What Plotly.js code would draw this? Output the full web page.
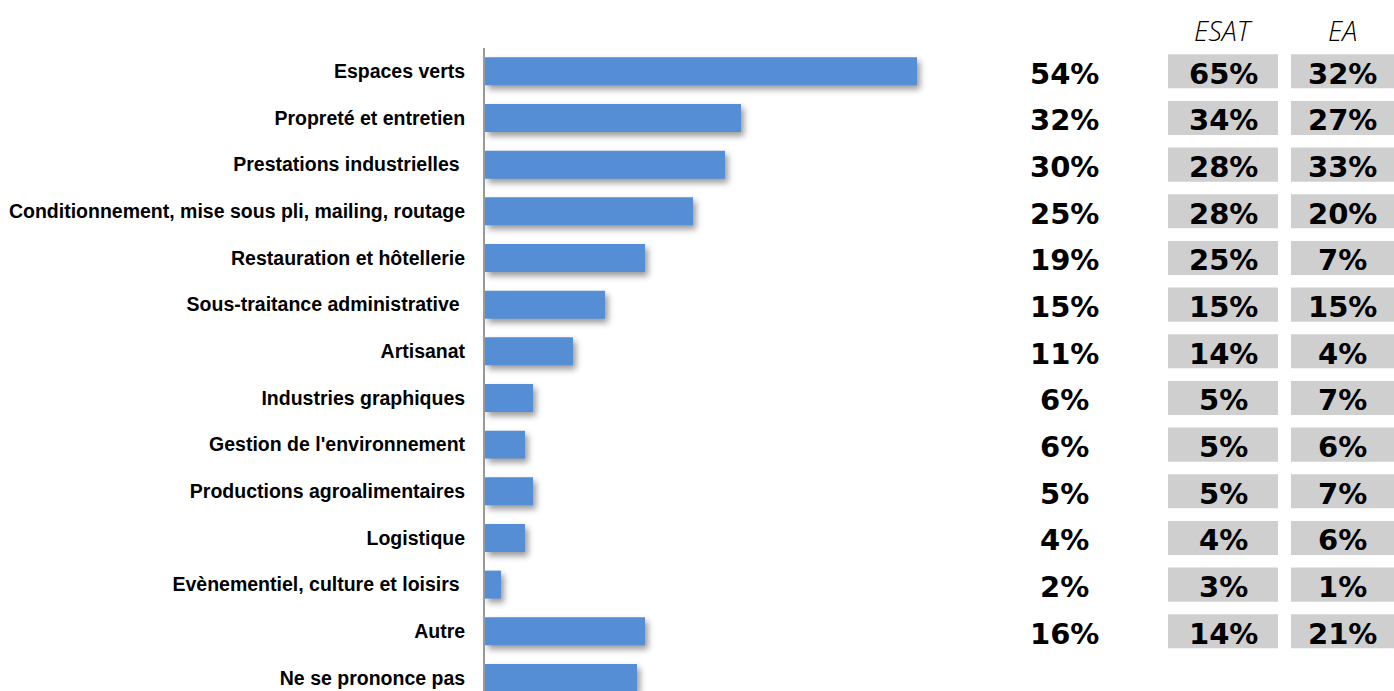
<!DOCTYPE html>
<html>
<head>
<meta charset="utf-8">
<script src="https://cdn.plot.ly/plotly-3.0.1.min.js"></script>
<style>
  html, body { margin: 0; padding: 0; background: #fff; }
  #chart { width: 1394px; height: 691px; }
  .bars .point path { filter: drop-shadow(3px 4px 3px rgba(0,0,0,0.4)); }
</style>
</head>
<body>
<div id="chart"></div>
<script>
// ---- data ----
const categories = [
  "Espaces verts",
  "Propreté et entretien",
  "Prestations industrielles\u00a0",
  "Conditionnement, mise sous pli, mailing, routage",
  "Restauration et hôtellerie",
  "Sous-traitance administrative\u00a0",
  "Artisanat",
  "Industries graphiques",
  "Gestion de l'environnement",
  "Productions agroalimentaires",
  "Logistique",
  "Evènementiel, culture et loisirs\u00a0",
  "Autre",
  "Ne se prononce pas"
];
// bar lengths (%)
const barValues = [54, 32, 30, 26, 20, 15, 11, 6, 5, 6, 5, 2, 20, 19];
// text columns
const totalLabels = ["54%", "32%", "30%", "25%", "19%", "15%", "11%", "6%", "6%", "5%", "4%", "2%", "16%"];
const esatLabels  = ["65%", "34%", "28%", "28%", "25%", "15%", "14%", "5%", "5%", "5%", "4%", "3%", "14%"];
const eaLabels    = ["32%", "27%", "33%", "20%", "7%", "15%", "4%", "7%", "6%", "7%", "6%", "1%", "21%"];
const columnHeaders = ["ESAT", "EA"];

// ---- layout constants ----
const W = 1394, H = 691;
const L = 485, T = 48;
const plotW = W - L;
const pxToPaper = px => (px - L) / plotW;
const pxPerPct = 8;

const trace = {
  type: "bar",
  orientation: "h",
  x: barValues,
  y: categories,
  marker: { color: "#558ed5", line: { width: 0 } },
  hoverinfo: "none"
};

const annotations = [];
const shapes = [];
const numFont = { family: "DejaVu Sans", size: 29, color: "#000", weight: "bold" };
const boxH = 0.365;
const textShift = 0.05;

totalLabels.forEach((t, i) => {
  annotations.push({ xref: "paper", yref: "y", x: pxToPaper(1064), y: i + textShift, text: t,
    showarrow: false, xanchor: "center", yanchor: "middle", font: numFont });
});
esatLabels.forEach((t, i) => {
  shapes.push({ type: "rect", xref: "paper", yref: "y", x0: pxToPaper(1168), x1: pxToPaper(1278),
    y0: i - boxH, y1: i + boxH, fillcolor: "#cfcfcf", line: { width: 0 }, layer: "below" });
  annotations.push({ xref: "paper", yref: "y", x: pxToPaper(1223), y: i + textShift, text: t,
    showarrow: false, xanchor: "center", yanchor: "middle", font: numFont });
});
eaLabels.forEach((t, i) => {
  shapes.push({ type: "rect", xref: "paper", yref: "y", x0: pxToPaper(1291), x1: pxToPaper(1394),
    y0: i - boxH, y1: i + boxH, fillcolor: "#cfcfcf", line: { width: 0 }, layer: "below" });
  annotations.push({ xref: "paper", yref: "y", x: pxToPaper(1342), y: i + textShift, text: t,
    showarrow: false, xanchor: "center", yanchor: "middle", font: numFont });
});
const headerX = [1223, 1342];
columnHeaders.forEach((h, k) => {
  annotations.push({ xref: "paper", yref: "paper", x: pxToPaper(headerX[k]), y: 1 + (T - 31) / (H - T),
    text: h, showarrow: false, xanchor: "center", yanchor: "middle",
    font: { family: "Open Sans", size: 27, color: "#000", style: "italic", weight: 300 } });
});

const layout = {
  width: W, height: H,
  margin: { l: L, r: 0, t: T, b: 0, pad: 0 },
  paper_bgcolor: "#fff", plot_bgcolor: "rgba(0,0,0,0)",
  showlegend: false,
  bargap: 0.4,
  xaxis: { range: [0, plotW / pxPerPct], showgrid: false, zeroline: false, showticklabels: false,
    showline: false, ticks: "", fixedrange: true },
  yaxis: { type: "category", categoryorder: "array", categoryarray: categories,
    range: [13.28, -0.5], showgrid: false, zeroline: false,
    showline: true, linecolor: "#999", linewidth: 2,
    ticks: "outside", ticklen: 14, tickcolor: "rgba(0,0,0,0)",
    tickfont: { family: "Liberation Sans, Arial", size: 19.5, color: "#000", weight: "bold" },
    automargin: false, fixedrange: true },
  annotations: annotations,
  shapes: shapes
};

Plotly.newPlot("chart", [trace], layout, { displayModeBar: false, staticPlot: true });
</script>
</body>
</html>
